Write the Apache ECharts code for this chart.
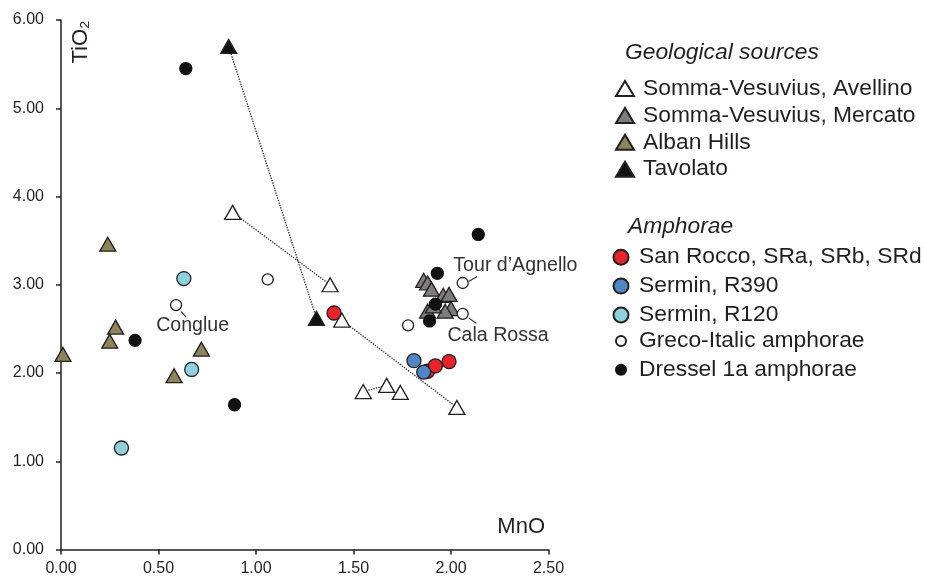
<!DOCTYPE html>
<html>
<head>
<meta charset="utf-8">
<script src="https://cdn.jsdelivr.net/npm/echarts@6/dist/echarts.min.js"></script>
<style>
html,body{margin:0;padding:0;background:#fff;}
#chart{width:925px;height:579px;}
</style>
</head>
<body>
<div id="chart"></div>
<script>
// ---- data (MnO, TiO2) ----
const xTicks = [0, 0.5, 1.0, 1.5, 2.0, 2.5];
const yTicks = [0, 1, 2, 3, 4, 5, 6];

const avellino   = [[0.88,3.82],[1.38,3.00],[1.44,2.60],[1.55,1.79],[1.67,1.86],[1.74,1.78],[2.03,1.61]];
const mercato    = [[1.86,3.05],[1.88,3.02],[1.90,2.95],[1.96,2.88],[1.99,2.89],[2.00,2.73],[1.97,2.70],[1.88,2.70],[1.91,2.76]];
const albanHills = [[0.01,2.21],[0.24,3.46],[0.28,2.52],[0.25,2.36],[0.58,1.97],[0.72,2.27]];
const tavolato   = [[0.86,5.70],[1.31,2.62]];

const sanRocco   = [[1.40,2.68],[1.88,2.02],[1.92,2.08],[1.99,2.13]];
const serminR390 = [[1.81,2.14],[1.86,2.01]];
const serminR120 = [[0.63,3.07],[0.67,2.04],[0.31,1.15]];
const grecoItalic= [[0.59,2.77],[1.06,3.06],[1.78,2.54],[2.06,3.02],[2.06,2.67]];
const dressel1a  = [[0.64,5.45],[0.38,2.37],[0.89,1.64],[2.14,3.57],[1.93,3.13],[1.92,2.78],[1.89,2.59]];

// dotted tie lines between sources
const tieLines = [
  [[0.86,5.70],[1.31,2.62]],
  [[0.88,3.82],[1.38,3.00]],
  [[1.44,2.60],[2.03,1.61]],
  [[1.55,1.79],[1.67,1.86]]
];

// annotated Greco-Italic points (index into grecoItalic)
const annotationNames   = ['Conglue', 'Tour d\u2019Agnello', 'Cala Rossa'];
const annotationIndices = [0, 3, 4];

const seriesNames = {
  avellino: 'Somma-Vesuvius, Avellino',
  mercato: 'Somma-Vesuvius, Mercato',
  alban: 'Alban Hills',
  tavolato: 'Tavolato',
  sanRocco: 'San Rocco, SRa, SRb, SRd',
  r390: 'Sermin, R390',
  r120: 'Sermin, R120',
  greco: 'Greco-Italic amphorae',
  dressel: 'Dressel 1a amphorae'
};

// ---- layout / style (pixel offsets of annotation labels relative to their point) ----
const annotationLayout = [
  {label: [16.6, 20.4], line: [5, 6.4, 10, 12]},
  {label: [52.7, -17], line: [6, -1.5, 14.4, -6.5]},
  {label: [35.4, 21.7], line: [6, 4, 13.7, 9.7]}
];

const FONT = 'Liberation Sans, Arial, Helvetica, sans-serif';
const INK = '#231f20';
const chart = echarts.init(document.getElementById('chart'), null, {renderer: 'canvas'});

function tri(name, data, fill) {
  return {
    type: 'scatter', name, data, symbol: 'triangle', symbolSize: [16, 14],
    itemStyle: {color: fill, borderColor: INK, borderWidth: 1.3, opacity: 1},
    emphasis: {disabled: true}, z: 3
  };
}
function circ(name, data, fill, size, border) {
  return {
    type: 'scatter', name, data, symbol: 'circle', symbolSize: size,
    itemStyle: {color: fill, borderColor: border || INK, borderWidth: 1.3, opacity: 1},
    emphasis: {disabled: true}, z: 4
  };
}

const series = [];
tieLines.forEach(seg => {
  series.push({
    type: 'line', data: seg, symbol: 'none', silent: true, z: 1,
    lineStyle: {type: 'dotted', color: INK, width: 1.3}
  });
});
series.push(tri(seriesNames.avellino, avellino, '#ffffff'));
series.push(tri(seriesNames.mercato, mercato, '#7d7d7d'));
series.push(tri(seriesNames.alban, albanHills, '#8d8459'));
series.push(tri(seriesNames.tavolato, tavolato, '#111111'));
series.push(circ(seriesNames.sanRocco, sanRocco, '#e8232a', 14));
series.push(circ(seriesNames.r390, serminR390, '#4f86c6', 14));
series.push(circ(seriesNames.r120, serminR120, '#8fd0dd', 14));
series.push(circ(seriesNames.greco, grecoItalic, '#ffffff', 11));
series.push(circ(seriesNames.dressel, dressel1a, '#111111', 12, '#111111'));

// annotation labels with leader lines, placed from the data point through the axes
series.push({
  type: 'custom', name: 'annotations', silent: true, z: 6,
  data: annotationIndices.map((idx, i) => ({value: grecoItalic[idx], name: annotationNames[i]})),
  renderItem: function (params, api) {
    const p = api.coord([api.value(0), api.value(1)]);
    const lay = annotationLayout[params.dataIndex];
    const l = lay.line;
    return {
      type: 'group',
      children: [
        {type: 'line', shape: {x1: p[0] + l[0], y1: p[1] + l[1], x2: p[0] + l[2], y2: p[1] + l[3]},
          style: {stroke: '#333', lineWidth: 1.2}},
        {type: 'text', x: p[0] + lay.label[0], y: p[1] + lay.label[1],
          style: {text: annotationNames[params.dataIndex], font: '19.6px ' + FONT, fill: '#333',
            align: 'center', verticalAlign: 'middle'}}
      ]
    };
  }
});

const legendText = {fontFamily: FONT, fontSize: 22.8, lineHeight: 22, color: INK};

const option = {
  animation: false,
  backgroundColor: '#ffffff',
  grid: {left: 61, top: 20, right: 376.5, bottom: 29.5, containLabel: false},
  xAxis: {
    type: 'value', min: xTicks[0], max: xTicks[xTicks.length - 1], interval: xTicks[1] - xTicks[0],
    axisLine: {show: true, onZero: false, lineStyle: {color: INK, width: 1.5}},
    axisTick: {show: true, inside: false, length: 5, lineStyle: {color: INK, width: 1.5}},
    axisLabel: {fontFamily: FONT, fontSize: 16, color: INK, margin: 11, formatter: v => v.toFixed(2)},
    splitLine: {show: false}
  },
  yAxis: {
    type: 'value', min: yTicks[0], max: yTicks[yTicks.length - 1], interval: yTicks[1] - yTicks[0],
    axisLine: {show: true, onZero: false, lineStyle: {color: INK, width: 1.5}},
    axisTick: {show: true, inside: false, length: 5, lineStyle: {color: INK, width: 1.5}},
    axisLabel: {fontFamily: FONT, fontSize: 16, color: INK, margin: 17, formatter: v => v.toFixed(2)},
    splitLine: {show: false}
  },
  legend: [
    {
      orient: 'vertical', left: 615, top: 77, padding: 0, itemGap: 3.9,
      itemWidth: 18, itemHeight: 15, symbolKeepAspect: false, selectedMode: false,
      textStyle: Object.assign({padding: [0, 0, 0, 4]}, legendText),
      data: [seriesNames.avellino, seriesNames.mercato, seriesNames.alban, seriesNames.tavolato]
    },
    {
      orient: 'vertical', left: 612.5, top: 245.7, padding: 0, itemGap: 5.9,
      itemWidth: 15, itemHeight: 15, selectedMode: false,
      textStyle: Object.assign({padding: [0, 0, 0, 5.5]}, legendText),
      data: [seriesNames.sanRocco, seriesNames.r390, seriesNames.r120]
    },
    {
      orient: 'vertical', left: 615, top: 329.4, padding: 0, itemGap: 5.9,
      itemWidth: 10, itemHeight: 10, selectedMode: false,
      textStyle: Object.assign({padding: [0, 0, 0, 8]}, legendText),
      data: [seriesNames.greco, seriesNames.dressel]
    }
  ],
  graphic: [
    {type: 'text', left: 625, top: 41, style: {text: 'Geological sources', font: 'italic 22.8px ' + FONT, fill: INK}},
    {type: 'text', left: 628, top: 215, style: {text: 'Amphorae', font: 'italic 22.8px ' + FONT, fill: INK}},
    {type: 'text', x: 81, y: 42, rotation: Math.PI / 2,
      style: {text: 'TiO\u2082', font: '22px ' + FONT, fill: INK, align: 'center', verticalAlign: 'middle'}},
    {type: 'text', x: 545, y: 527,
      style: {text: 'MnO', font: '22px ' + FONT, fill: INK, align: 'right', verticalAlign: 'middle'}}
  ],
  series
};
chart.setOption(option);
</script>
</body>
</html>
